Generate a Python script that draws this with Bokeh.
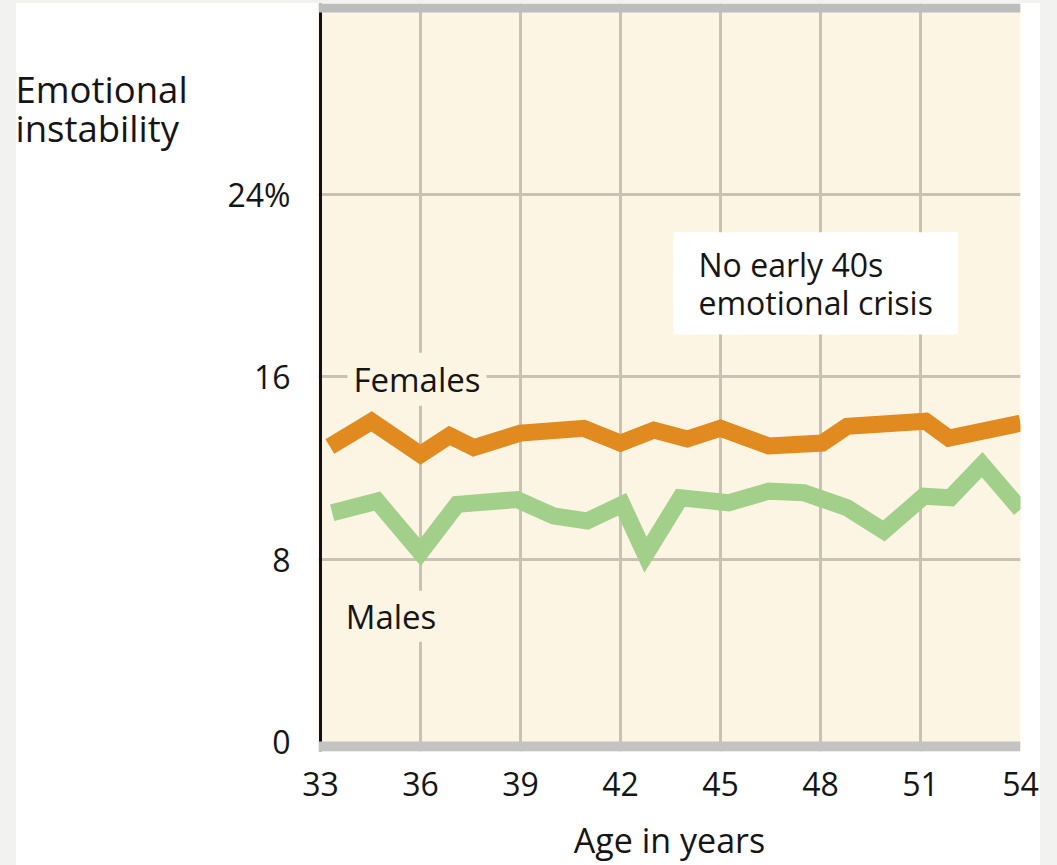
from bokeh.plotting import figure
from bokeh.models import (Range1d, FixedTicker, Span, BoxAnnotation, Label, Spacer)
from bokeh.layouts import row, column
from bokeh.embed import file_html
from bokeh.resources import INLINE

# ---- data ----
female_age = [33.28, 34.53, 36.0, 36.87, 37.6, 39.0, 40.9, 42.0, 43.0, 44.0, 45.0,
              46.45, 48.05, 48.8, 51.15, 51.85, 54.0]
female_val = [12.95, 14.05, 12.6, 13.43, 12.9, 13.54, 13.75, 13.1, 13.67, 13.28, 13.75,
              12.97, 13.1, 13.84, 14.06, 13.32, 13.97]

male_age = [33.35, 34.7, 36.0, 37.1, 38.9, 40.0, 41.0, 42.05, 42.75, 43.8, 45.25,
            46.45, 47.5, 48.8, 49.9, 51.1, 51.9, 52.85, 54.0]
male_val = [10.04, 10.55, 8.3, 10.41, 10.62, 9.9, 9.68, 10.41, 8.2, 10.7, 10.48,
            10.99, 10.92, 10.26, 9.24, 10.77, 10.7, 12.15, 10.19]

x_ticks = [33, 36, 39, 42, 45, 48, 51, 54]
y_ticks = [0, 8, 16, 24]
y_tick_labels = {0: "0", 8: "8", 16: "16", 24: "24%"}

FONT = "Open Sans"
CREAM = "#fdf5e4"
GRID = "#c9c1b3"
ORANGE = "#e08a1f"
GREEN = "#a2d08a"
TEXT = "#151515"

H = 862
X0, X1 = 32.94, 54.0
Y0, Y1 = -0.437, 32.393

# ---- left title panel ----
t = figure(width=200, height=H, output_backend="svg", toolbar_location=None,
           x_range=Range1d(0, 200), y_range=Range1d(0, H),
           min_border=0, x_axis_location=None, y_axis_location=None)
t.grid.visible = False
t.outline_line_color = None
t.background_fill_color = "white"
t.border_fill_color = "white"
t.add_layout(Label(x=-1, y=763, text="Emotional", text_font=FONT,
                   text_font_size="36.5px", text_color=TEXT, text_baseline="alphabetic"))
t.add_layout(Label(x=-1, y=719, text="instability", text_font=FONT,
                   text_font_size="36.5px", text_color=TEXT, text_baseline="alphabetic"))

# ---- main chart ----
p = figure(width=824, height=H, output_backend="svg", toolbar_location=None,
           x_range=Range1d(X0, X1), y_range=Range1d(Y0, Y1),
           min_border_left=102, min_border_right=20, min_border_top=0,
           min_border_bottom=110)
p.background_fill_color = CREAM
p.border_fill_color = "white"
p.outline_line_color = None

p.xgrid.ticker = FixedTicker(ticks=[36, 39, 42, 45, 48, 51])
p.ygrid.ticker = FixedTicker(ticks=[8, 16, 24])
for g in (p.xgrid, p.ygrid):
    g.grid_line_color = GRID
    g.grid_line_width = 3

p.xaxis.ticker = FixedTicker(ticks=x_ticks)
p.yaxis.ticker = FixedTicker(ticks=y_ticks)
p.yaxis.major_label_overrides = y_tick_labels
for ax in (p.xaxis, p.yaxis):
    ax.axis_line_color = None
    ax.major_tick_line_color = None
    ax.minor_tick_line_color = None
    ax.major_label_text_font = FONT
    ax.major_label_text_font_size = "32px"
    ax.major_label_text_color = TEXT
p.yaxis.major_label_standoff = 22
p.xaxis.major_label_standoff = 14
p.xaxis.axis_label = "Age in years"
p.xaxis.axis_label_text_font = FONT
p.xaxis.axis_label_text_font_size = "34px"
p.xaxis.axis_label_text_font_style = "normal"
p.xaxis.axis_label_text_color = TEXT
p.xaxis.axis_label_standoff = 18

p.line(female_age, female_val, line_color=ORANGE, line_width=17, line_join="miter")
p.line(male_age, male_val, line_color=GREEN, line_width=17, line_join="miter")

p.add_layout(Span(location=33, dimension="height", line_color="#111111", line_width=3))
p.add_layout(BoxAnnotation(left=X0, right=X1, bottom=Y0, top=0,
                           fill_color="#c3c3c3", fill_alpha=1, line_color=None))
p.add_layout(BoxAnnotation(left=X0, right=X1, bottom=32.0, top=Y1,
                           fill_color="#bdbdbd", fill_alpha=1, line_color=None))

p.add_layout(Label(x=35.895, y=15.9, text="Females", text_font=FONT,
                   text_font_size="33px", text_color=TEXT, text_baseline="middle",
                   text_align="center", background_fill_color=CREAM,
                   background_fill_alpha=1, padding=(6, 4)))
p.add_layout(Label(x=35.115, y=5.5, text="Males", text_font=FONT,
                   text_font_size="33px", text_color=TEXT, text_baseline="middle",
                   text_align="center", background_fill_color=CREAM,
                   background_fill_alpha=1, padding=(6, 3)))
p.add_layout(Label(x=43.59, y=20.11, text="No early 40s\nemotional crisis", text_font=FONT,
                   text_font_size="32px", text_color=TEXT, text_baseline="middle",
                   text_align="left", text_line_height=0.87,
                   background_fill_color="white", background_fill_alpha=1, padding=(25, 11)))

panel = row(t, p, styles={"background-color": "white"})
layout = column(Spacer(width=1040, height=3),
                row(Spacer(width=16, height=H), panel))

html = file_html(layout, INLINE)
html = html.replace("</head>", "<style>body{background:#f2f2f0;}</style></head>", 1)
open("out.html", "w").write(html)
